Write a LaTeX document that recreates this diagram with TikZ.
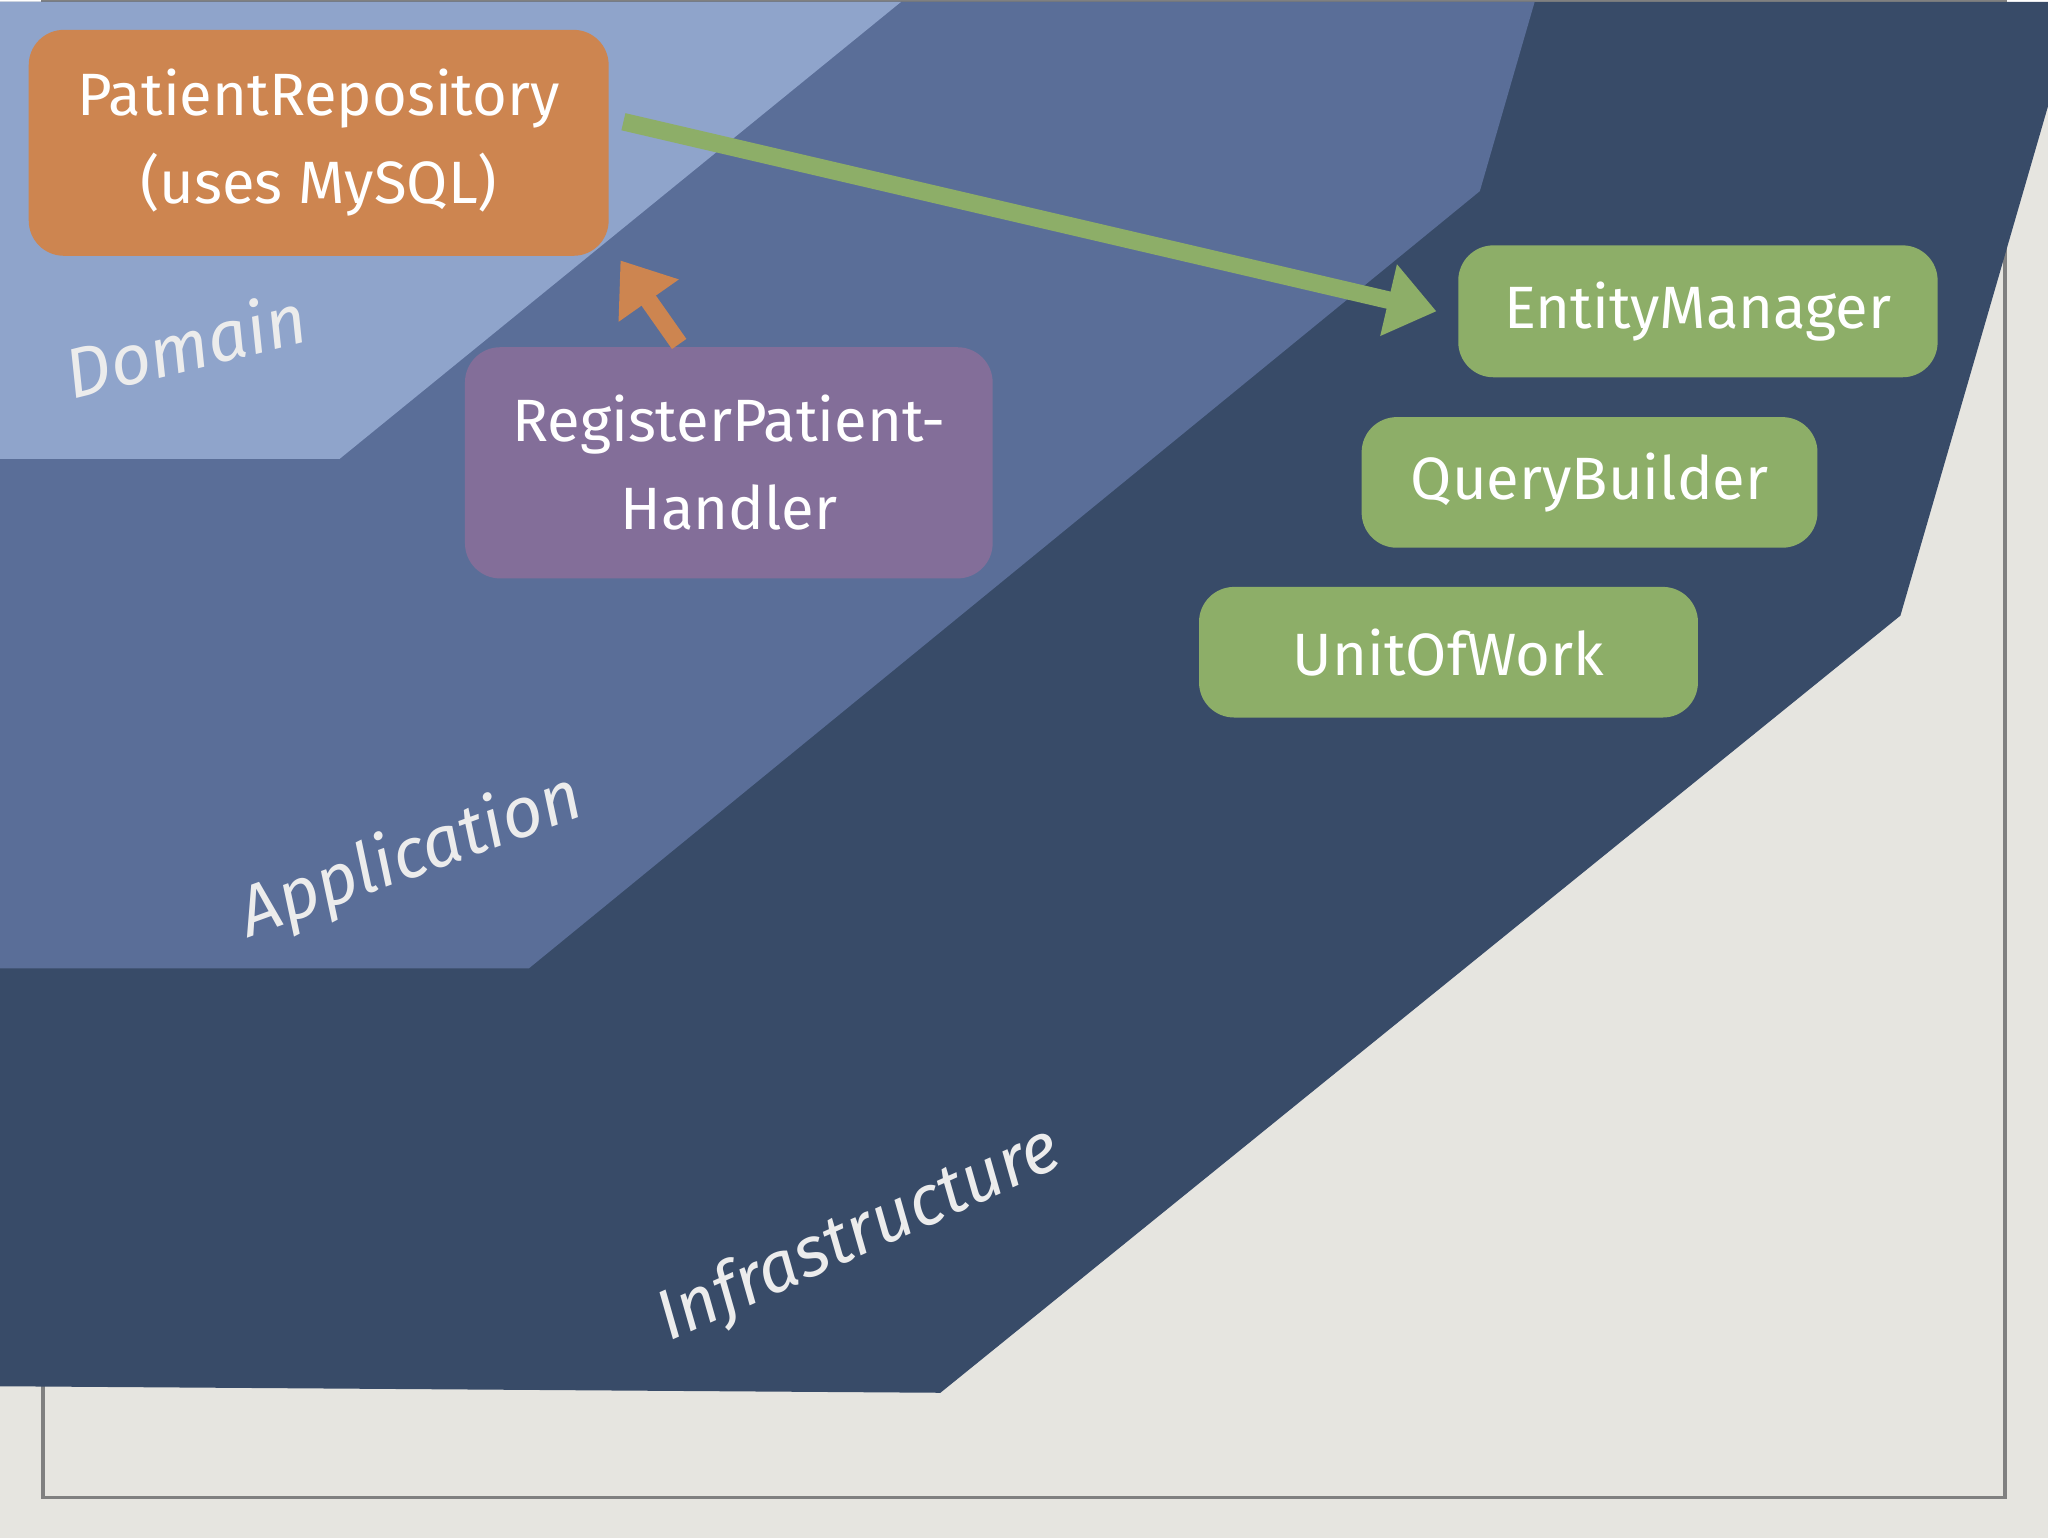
\documentclass[tikz,border=0pt]{standalone}
\usepackage{fontspec}
\setmainfont{Fira Sans}
\usetikzlibrary{arrows.meta,positioning}
\definecolor{paper}{HTML}{E6E5E0}
\definecolor{infra}{HTML}{384B68}
\definecolor{appl}{HTML}{5A6E98}
\definecolor{dom}{HTML}{8FA4CB}
\definecolor{orng}{HTML}{CD8550}
\definecolor{purp}{HTML}{836E99}
\definecolor{grn}{HTML}{8DAE68}
\begin{document}
\begin{tikzpicture}[x=0.013061cm, y=-0.013061cm]

% Define styles
\tikzset{
  box/.style={rectangle, rounded corners=10pt, text=white, align=center,
    font=\fontsize{17}{25}\selectfont},
  layer/.style={text=white!85!gray, font=\fontsize{20}{24}\selectfont\itshape},
  arrow/.style={line width=5pt, -{Triangle[length=14pt,width=20pt]}}
}

% Background and layers
\fill[paper] (0,0) rectangle (1568,1176);
\draw[gray, line width=1pt] (33,0) rectangle (1535,1145);
\fill[infra] (0,0) -- (1568,0) -- (1568,80) -- (1455,470) -- (720,1065) -- (0,1060) -- cycle;
\fill[appl] (0,0) -- (1175,0) -- (1133,145) -- (405,740) -- (0,740) -- cycle;
\fill[dom] (0,0) -- (690,0) -- (260,350) -- (0,350) -- cycle;

\node[layer, rotate=14] (domain) at (142,262) {Domain};
\node[layer, rotate=20] (application) at (315,655) {Application};
\node[layer, rotate=24] (infrastructure) at (658,945) {Infrastructure};

% Nodes
\node[box, fill=orng, minimum width=444*0.013061cm, minimum height=173*0.013061cm] (repo) at (244,108) {PatientRepository\\(uses MySQL)};
\node[box, fill=purp, minimum width=404*0.013061cm, minimum height=177*0.013061cm] (handler) at (558,353) {RegisterPatient-\\Handler};
\node[box, fill=grn, minimum width=367*0.013061cm, minimum height=101*0.013061cm] (em) at (1300,237) {EntityManager};
\node[box, fill=grn, minimum width=349*0.013061cm, minimum height=100*0.013061cm] (qb) at (1217,368) {QueryBuilder};
\node[box, fill=grn, minimum width=382*0.013061cm, minimum height=100*0.013061cm] (uow) at (1109,498) {UnitOfWork};

% Arrows
\coordinate (hstart) at (520,262);
\coordinate (rend) at (475,198);
\draw[arrow, grn] ([xshift=4pt,yshift=6pt]repo.east) -- ([xshift=-6pt]em.west);
\draw[arrow, orng] (hstart) -- (rend);

\end{tikzpicture}
\end{document}
